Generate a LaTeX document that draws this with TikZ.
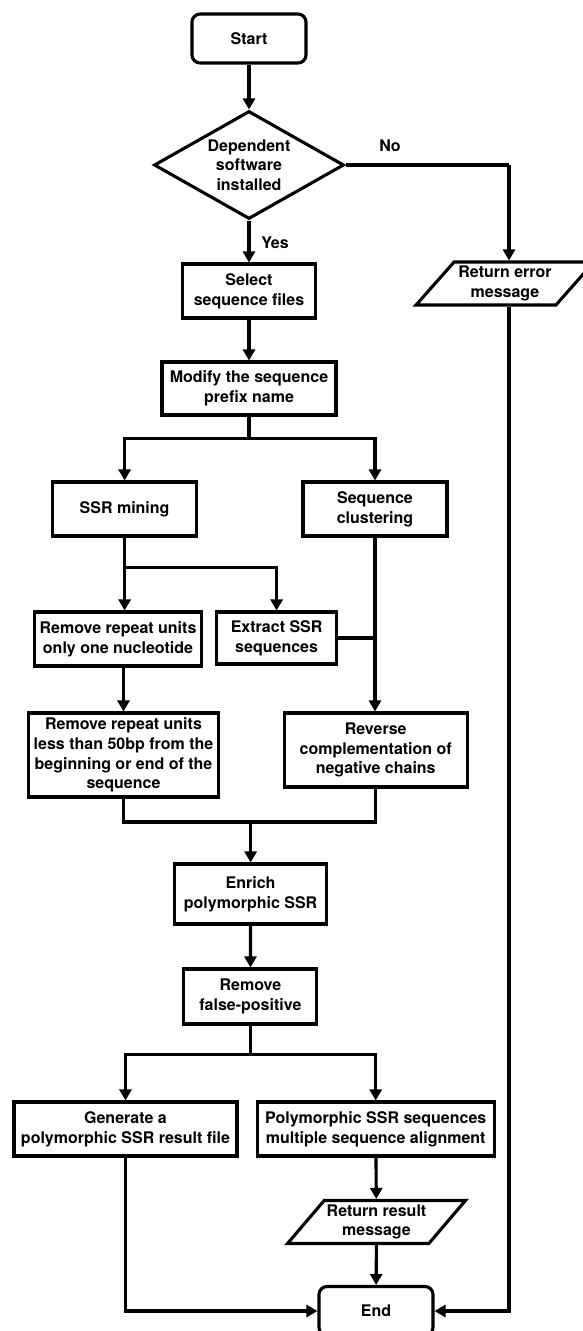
\documentclass[tikz,border=0pt]{standalone}
\usepackage{fontspec}
\setmainfont{TeX Gyre Heros}
\usetikzlibrary{shapes.geometric}
\usetikzlibrary{arrows.meta}

\begin{document}
\begin{tikzpicture}[x=1pt,y=-1pt,
    font=\fontsize{16}{19.7}\selectfont\bfseries,
    every node/.style={align=center},
    box/.style={draw, line width=3.1pt, inner sep=2pt},
    term/.style={box, rounded corners=8pt, minimum width=114pt, minimum height=49pt},
    dec/.style={box, diamond, aspect=1.76, minimum width=190pt, minimum height=108pt, inner sep=0pt},
    io/.style={box, trapezium, trapezium left angle=45, trapezium right angle=135, trapezium stretches=true, minimum width=178pt, minimum height=43pt, inner sep=0pt},
    ln/.style={line width=3.1pt},
    arr/.style={ln, -{Triangle[length=11pt,width=12pt]}}]
    \useasboundingbox (0,0) rectangle (583,1331);

    \node[term] (start) at (249,38.5) {Start};
    \node[dec] (dep) at (249,165) {Dependent\\software\\installed};
    \node[box, minimum width=133pt, minimum height=54pt] (sel) at (249,291) {Select\\sequence files};
    \node[io] (err) at (505,283.5) {Return error\\message};
    \node[box, minimum width=174pt, minimum height=53pt] (mod) at (249,388.5) {Modify the sequence\\prefix name};
    \node[box, minimum width=144pt, minimum height=54pt] (ssr) at (124.6,509) {SSR mining};
    \node[box, minimum width=144pt, minimum height=54pt] (clu) at (375,509) {Sequence\\clustering};
    \node[box, minimum width=167pt, minimum height=54pt] (one) at (118,639) {Remove repeat units\\only one nucleotide};
    \node[box, minimum width=120pt, minimum height=52pt] (ext) at (276.6,638) {Extract SSR\\sequences};
    \node[box, minimum width=190pt, minimum height=84pt] (l50) at (123.5,755) {Remove repeat units\\less than 50bp from the\\beginning or end of the\\sequence};
    \node[box, minimum width=183pt, minimum height=74pt] (rev) at (375.7,750) {Reverse\\complementation of\\negative chains};
    \node[box, minimum width=152pt, minimum height=60pt] (enr) at (250.6,894) {Enrich\\polymorphic SSR};
    \node[box, minimum width=133pt, minimum height=55pt] (fp) at (250.4,996.5) {Remove\\false-positive};
    \node[box, minimum width=223pt, minimum height=54pt] (gen) at (125.5,1129) {Generate a\\polymorphic SSR result file};
    \node[box, minimum width=237pt, minimum height=54pt] (msa) at (375.7,1129) {Polymorphic SSR sequences\\multiple sequence alignment};
    \node[io] (res) at (376.5,1222) {Return result\\message};
    \node[term] (end) at (376,1311) {End};

    \node (yes) at (275,243) {Yes};
    \node (no) at (390,146) {No};

    \coordinate (rail) at (509,165);
    \coordinate (mrg) at (250.6,822);

    \draw[arr] (start) -- (dep);
    \draw[arr] (dep) -- (sel);
    \draw[ln] (dep.east) -- (rail);
    \draw[arr] (rail) -- (rail |- err.north);
    \draw[arr] (rail |- err.south) |- (end.east);
    \draw[arr] (sel) -- (mod);
    \draw[arr] (mod.south) -- ++(0,22) -| (ssr.north);
    \draw[arr] (mod.south) -- ++(0,22) -| (clu.north);
    \draw[arr] (ssr.south) -- (ssr.south |- one.north);
    \draw[arr] (ssr.south) -- ++(0,30) -| (ext.north);
    \draw[arr] (clu.south) -- (clu.south |- rev.north);
    \draw[ln] (ext.east) -- (ext.east -| clu.south);
    \draw[arr] (l50.north |- one.south) -- (l50.north);
    \draw[ln] (l50.south) |- (mrg) -| (rev.south);
    \draw[arr] (mrg) -- (enr.north);
    \draw[arr] (enr) -- (fp);
    \draw[arr] (fp.south) -- ++(0,29) -| (gen.north);
    \draw[arr] (fp.south) -- ++(0,29) -| (msa.north);
    \draw[arr] (msa) -- (res);
    \draw[arr] (res) -- (end);
    \draw[arr] (gen.south) |- (end.west);
\end{tikzpicture}
\end{document}
